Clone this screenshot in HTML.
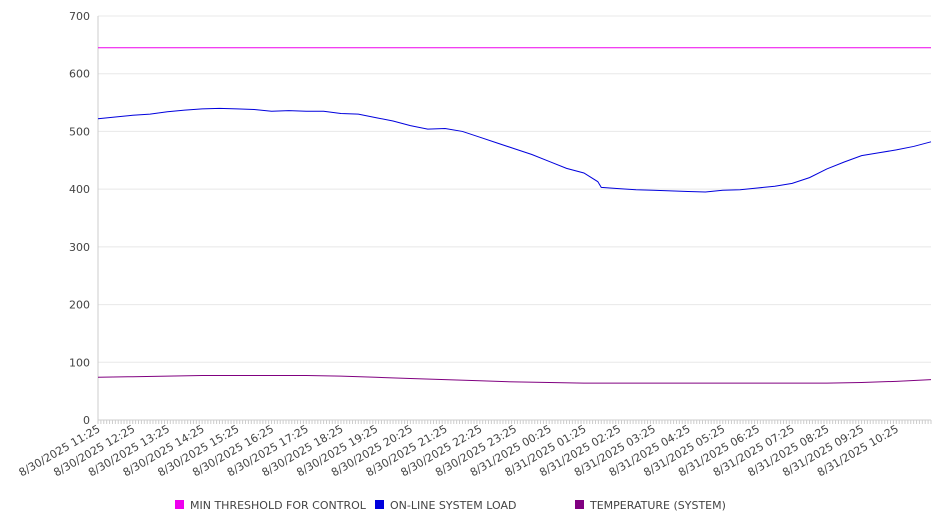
<!DOCTYPE html>
<html><head><meta charset="utf-8"><style>
body{margin:0;background:#fff;}
svg text{font-family:"DejaVu Sans","Liberation Sans",sans-serif;font-size:11px;fill:#444;}
</style></head><body>
<svg id="chart" width="946" height="526" xmlns="http://www.w3.org/2000/svg">
<g id="grid"></g>
<g id="yaxis"></g>
<g id="xaxis"></g>
<g id="series"></g>
<g id="legend"></g>
</svg>
<script>
const xLabels=["8/30/2025 11:25","8/30/2025 12:25","8/30/2025 13:25","8/30/2025 14:25","8/30/2025 15:25","8/30/2025 16:25","8/30/2025 17:25","8/30/2025 18:25","8/30/2025 19:25","8/30/2025 20:25","8/30/2025 21:25","8/30/2025 22:25","8/30/2025 23:25","8/31/2025 00:25","8/31/2025 01:25","8/31/2025 02:25","8/31/2025 03:25","8/31/2025 04:25","8/31/2025 05:25","8/31/2025 06:25","8/31/2025 07:25","8/31/2025 08:25","8/31/2025 09:25","8/31/2025 10:25"];
const yTicks=[0,100,200,300,400,500,600,700];
const loadHours=[0,0.5,1,1.5,2,2.5,3,3.5,4,4.5,5,5.5,6,6.5,7,7.5,8,8.5,9,9.5,10,10.5,11,11.5,12,12.5,13,13.5,14,14.4,14.5,15,15.5,16,16.5,17,17.5,18,18.5,19,19.5,20,20.5,21,21.5,22,22.5,23,23.5,24];
const loadValues=[522,525,528,530,534,537,539,540,539,538,535,536,535,535,531,530,524,518,510,504,505,500,490,480,470,460,448,436,428,413,403,401,399,398,397,396,395,398,399,402,405,410,420,435,447,458,463,468,474,482];
const tempHours=[0,1,2,3,4,5,6,7,8,9,10,11,12,13,14,15,16,17,18,19,20,21,22,23,24];
const tempValues=[74,75,76,77,77,77,77,76,74,72,70,68,66,65,64,64,64,64,64,64,64,64,65,67,70];
const thresholdValue=645;
const seriesNames=["MIN THRESHOLD FOR CONTROL","ON-LINE SYSTEM LOAD","TEMPERATURE (SYSTEM)"];
const seriesColors=["#ee00ee","#0000dd","#800080"];

const NS="http://www.w3.org/2000/svg";
const X0=98,X1=931,Y0=420,Y1=16,HMAX=24,VMAX=700;
const xs=h=>X0+(X1-X0)*h/HMAX;
const ys=v=>Y0-(Y0-Y1)*v/VMAX;
function mk(tag,attrs,parent){const e=document.createElementNS(NS,tag);for(const k in attrs)e.setAttribute(k,attrs[k]);parent.appendChild(e);return e;}
const grid=document.getElementById('grid'),yax=document.getElementById('yaxis'),xax=document.getElementById('xaxis'),ser=document.getElementById('series'),leg=document.getElementById('legend');
yTicks.forEach(v=>{
  const l=mk('line',{x1:X0,x2:X1,y1:ys(v),y2:ys(v),stroke:v===0?'#ccc':'#e8e8e8'},grid);
  
  
  const t=mk('text',{x:90,y:ys(v)+4,'text-anchor':'end'},yax);t.textContent=v;
  
  
});
mk('line',{x1:X0,x2:X0,y1:Y1,y2:Y0,stroke:'#ccc'},yax);
for(let i=0;i<=HMAX*12;i++){const x=xs(i/12);mk('line',{x1:x,x2:x,y1:Y0,y2:Y0+4,stroke:'#ccc'},xax);}
xLabels.forEach((s,i)=>{
  const x=xs(i)+3,y=Y0+11;
  const t=mk('text',{x:x,y:y,'text-anchor':'end',transform:`rotate(-30 ${x} ${y})`},xax);t.textContent=s;
  
  
});
const th=mk('line',{x1:X0,x2:X1,y1:ys(thresholdValue),y2:ys(thresholdValue),stroke:seriesColors[0],'stroke-width':1},ser);


const lp=mk('polyline',{points:loadHours.map((h,i)=>xs(h)+','+ys(loadValues[i])).join(' '),fill:'none',stroke:seriesColors[1],'stroke-width':1},ser);


const tp=mk('polyline',{points:tempHours.map((h,i)=>xs(h)+','+ys(tempValues[i])).join(' '),fill:'none',stroke:seriesColors[2],'stroke-width':1},ser);


const lx=[175,375,575];
seriesNames.forEach((n,i)=>{
  const r=mk('rect',{x:lx[i],y:500,width:9,height:9,fill:seriesColors[i]},leg);
  
  
  const t=mk('text',{x:lx[i]+15,y:509},leg);t.textContent=n;
  
  
});
</script>
</body></html>
